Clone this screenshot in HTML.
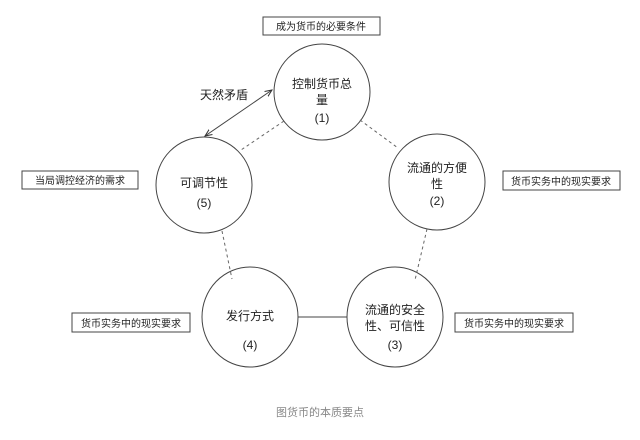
<!DOCTYPE html>
<html><head><meta charset="utf-8"><style>
html,body{margin:0;padding:0;background:#fff;}
svg text{font-family:"Liberation Sans","Noto Sans CJK SC",sans-serif;fill:#222;}
</style></head><body>
<svg width="640" height="435" viewBox="0 0 640 435" xmlns="http://www.w3.org/2000/svg">
<defs>
<marker id="a" markerWidth="8" markerHeight="8" refX="7" refY="4" orient="auto"><path d="M0,1 L7,4 L0,7" fill="none" stroke="#333" stroke-width="1"/></marker>
<marker id="b" markerWidth="8" markerHeight="8" refX="1" refY="4" orient="auto"><path d="M8,1 L1,4 L8,7" fill="none" stroke="#333" stroke-width="1"/></marker>
</defs>
<g fill="none" stroke="#444" stroke-width="1">
<circle cx="322" cy="92" r="48"/>
<circle cx="204" cy="185" r="48"/>
<circle cx="437" cy="182" r="48"/>
<ellipse cx="250" cy="317" rx="48" ry="50"/>
<ellipse cx="395" cy="317" rx="48" ry="50"/>
<line x1="298" y1="317" x2="347" y2="317"/>
<g stroke-dasharray="3,3" stroke="#666">
<line x1="284" y1="121" x2="241" y2="150"/>
<line x1="360" y1="120" x2="398" y2="148"/>
<line x1="222" y1="231" x2="232" y2="279"/>
<line x1="427" y1="229" x2="415" y2="280"/>
</g>
<line x1="272" y1="90" x2="205" y2="136" marker-end="url(#a)" marker-start="url(#b)"/>
<rect x="263" y="17" width="117" height="18"/>
<rect x="22" y="171" width="116" height="18"/>
<rect x="503" y="171" width="117" height="19"/>
<rect x="72" y="313" width="118" height="19"/>
<rect x="455" y="313" width="118" height="19"/>
</g>
<g font-size="10" text-anchor="middle">
<text x="321" y="30">成为货币的必要条件</text>
<text x="80" y="184">当局调控经济的需求</text>
<text x="561" y="185">货币实务中的现实要求</text>
<text x="131" y="327">货币实务中的现实要求</text>
<text x="514" y="327">货币实务中的现实要求</text>
</g>
<g font-size="12" text-anchor="middle">
<text x="322" y="88">控制货币总</text>
<text x="322" y="104">量</text>
<text x="322" y="122">(1)</text>
<text x="204" y="187">可调节性</text>
<text x="204" y="207">(5)</text>
<text x="437" y="172">流通的方便</text>
<text x="437" y="188">性</text>
<text x="437" y="205">(2)</text>
<text x="250" y="320">发行方式</text>
<text x="250" y="349">(4)</text>
<text x="395" y="314">流通的安全</text>
<text x="395" y="330">性、可信性</text>
<text x="395" y="349">(3)</text>
<text x="224" y="99">天然矛盾</text>
</g>
<text x="320" y="416" font-size="11" text-anchor="middle" style="fill:#888">图货币的本质要点</text>
</svg>
</body></html>
